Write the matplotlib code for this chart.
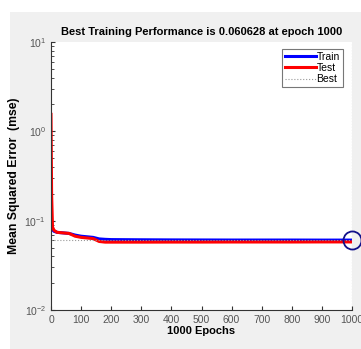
import matplotlib
matplotlib.use('Agg')
import matplotlib.pyplot as plt
from matplotlib.patches import Rectangle

plt.rcParams['font.family'] = ['Liberation Sans', 'DejaVu Sans']
plt.rcParams['mathtext.default'] = 'regular'

# data
epochs = [0, 2, 5, 10, 20, 40, 60, 80, 100, 120, 140, 160, 180, 200, 300, 400, 500, 600, 700, 800, 900, 1000]
train = [0.085, 0.082, 0.079, 0.076, 0.074, 0.073, 0.072, 0.069, 0.067, 0.066, 0.065, 0.0625, 0.0618, 0.0614,
         0.0611, 0.0609, 0.0608, 0.0607, 0.0607, 0.0607, 0.0606, 0.060628]
test = [1.55, 0.2, 0.085, 0.078, 0.074, 0.073, 0.072, 0.067, 0.065, 0.064, 0.063, 0.0585, 0.0575, 0.0575,
        0.0575, 0.0576, 0.0576, 0.0577, 0.0577, 0.0577, 0.0578, 0.0578]
best_epoch = 1000
best_perf = 0.060628

fig = plt.figure(figsize=(3.61, 3.49), dpi=100)
fig.patch.set_facecolor('white')
fig.patches.append(Rectangle((10 / 361, 0), 1, 1 - 12 / 349, transform=fig.transFigure,
                             facecolor='#f0f0f0', edgecolor='none', zorder=-10))

ax = fig.add_axes([51 / 361, 1 - 310 / 349, 301 / 361, 268 / 349])
ax.set_facecolor('white')
ax.plot(epochs, train, color='#0000ff', lw=2.2, label='Train')
ax.plot(epochs, test, color='#ff0000', lw=2.2, label='Test')
ax.plot([0, best_epoch], [best_perf, best_perf], color='#999999', lw=0.8, ls=':', label='Best')
ax.axvline(best_epoch, color='#999999', lw=0.8, ls=':')
ax.plot([best_epoch], [best_perf], 'o', ms=13, mfc='none', mec='#10108a', mew=1.3, clip_on=False)

ax.set_yscale('log')
ax.set_ylim(1e-2, 1e1)
ax.set_xlim(0, 1000)
ax.set_xticks(range(0, 1001, 100))

for s in ['top', 'right']:
    ax.spines[s].set_visible(False)
for s in ['left', 'bottom']:
    ax.spines[s].set_color('#333333')
    ax.spines[s].set_linewidth(0.8)
ax.tick_params(which='both', direction='in', labelsize=7.5, labelcolor='#555555', color='#333333')
ax.tick_params(which='major', length=3)
ax.tick_params(which='minor', length=2)
for lab in ax.get_xticklabels() + ax.get_yticklabels():
    lab.set_family(['Liberation Sans Narrow', 'Liberation Sans'])

ax.set_title('Best Training Performance is 0.060628 at epoch 1000', fontsize=8, fontweight='bold', pad=5)
ax.set_xlabel('1000 Epochs', fontsize=8, fontweight='bold', labelpad=1)
ax.set_ylabel('Mean Squared Error  (mse)', fontsize=8.8, fontweight='bold', labelpad=3)

leg = ax.legend(loc='upper right', fontsize=7.5, frameon=True, fancybox=False, handlelength=2.9,
                borderpad=0.3, labelspacing=0.12, handletextpad=0.1, borderaxespad=0,
                bbox_to_anchor=(0.97, 0.975))
leg.get_frame().set_edgecolor('#555555')
leg.get_frame().set_linewidth(0.8)
for t in leg.get_texts():
    t.set_family(['Liberation Sans Narrow', 'Liberation Sans'])

fig.savefig('out.png', dpi=100)
